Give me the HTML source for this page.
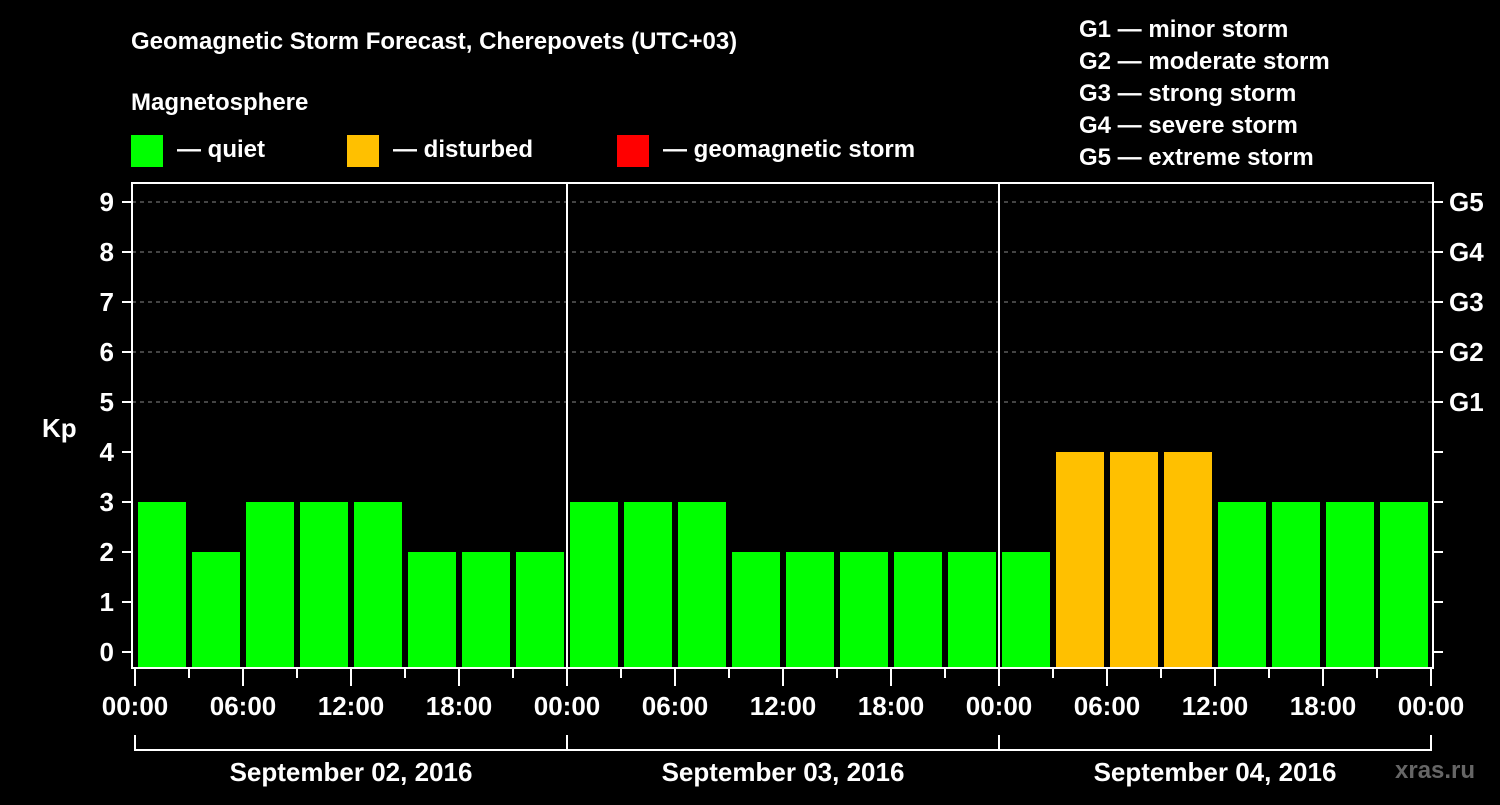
<!DOCTYPE html>
<html><head><meta charset="utf-8"><style>
body{margin:0;background:#000;width:1500px;height:800px;overflow:hidden}
svg text{font-family:"Liberation Sans",sans-serif;font-weight:bold;fill:#fff}
</style></head><body>
<svg id="c" width="1500" height="800">
<text x="131" y="49" font-size="24">Geomagnetic Storm Forecast, Cherepovets (UTC+03)</text>
<text x="131" y="110" font-size="24">Magnetosphere</text>
<rect x="131" y="135" width="32" height="32" fill="#00ff00"/>
<text x="177" y="157" font-size="24">— quiet</text>
<rect x="347" y="135" width="32" height="32" fill="#ffc000"/>
<text x="393" y="157" font-size="24">— disturbed</text>
<rect x="617" y="135" width="32" height="32" fill="#ff0000"/>
<text x="663" y="157" font-size="24">— geomagnetic storm</text>
<g font-size="24">
<text x="1079" y="37">G1 — minor storm</text>
<text x="1079" y="69">G2 — moderate storm</text>
<text x="1079" y="101">G3 — strong storm</text>
<text x="1079" y="133">G4 — severe storm</text>
<text x="1079" y="165">G5 — extreme storm</text>
</g>
<text x="42" y="437" font-size="26">Kp</text>
<text x="1395" y="778" font-size="24" fill="#666" style="fill:#666">xras.ru</text>
<g id="g"></g>
</svg>
<script>
const kpValues=[3,2,3,3,3,2,2,2, 3,3,3,2,2,2,2,2, 2,4,4,4,3,3,3,3];
const yTicks=[0,1,2,3,4,5,6,7,8,9];
const gLabels=["G1","G2","G3","G4","G5"];
const timeLabels=["00:00","06:00","12:00","18:00","00:00","06:00","12:00","18:00","00:00","06:00","12:00","18:00","00:00"];
const dayLabels=["September 02, 2016","September 03, 2016","September 04, 2016"];
const X0=135,SLOT=54,Y0=652,UNIT=50;
const xs=i=>X0+i*SLOT, ys=v=>Y0-v*UNIT;
const g=document.getElementById('g');const NS='http://www.w3.org/2000/svg';
function mk(t,a){const e=document.createElementNS(NS,t);for(const k in a)e.setAttribute(k,a[k]);g.appendChild(e);return e;}
yTicks.forEach(v=>{
 if(v>=5){const l=mk('line',{x1:132,x2:1433,y1:ys(v),y2:ys(v),stroke:'#888','stroke-dasharray':'4,4','stroke-width':1});
 
 }
 const t1=mk('line',{x1:122,x2:132,y1:ys(v),y2:ys(v),stroke:'#fff','stroke-width':2});
 
 
 const t2=mk('line',{x1:1433,x2:1443,y1:ys(v),y2:ys(v),stroke:'#fff','stroke-width':2});
 
 
 const tx=mk('text',{x:114,y:ys(v)+9,'text-anchor':'end','font-size':26});tx.textContent=v;
 
 
});
gLabels.forEach((s,i)=>{const t=mk('text',{x:1449,y:ys(5+i)+9,'font-size':26});t.textContent=s;
 
 });
kpValues.forEach((v,i)=>{
 const col=v>=5?'#ff0000':(v>=4?'#ffc000':'#00ff00');
 const r=mk('rect',{x:xs(i)+3,y:ys(v),width:48,height:668-ys(v),fill:col});
 
 
});
const fr=mk('rect',{x:132,y:183,width:1301,height:485,fill:'none',stroke:'#fff','stroke-width':2});


[1,2].forEach(d=>{const l=mk('line',{x1:xs(d*8),x2:xs(d*8),y1:183,y2:668,stroke:'#fff','stroke-width':2});
 
 });
for(let i=0;i<=24;i++){const maj=i%2==0;
 const l=mk('line',{x1:xs(i),x2:xs(i),y1:668,y2:maj?686:678,stroke:'#fff','stroke-width':2});
 
 }
timeLabels.forEach((s,i)=>{const t=mk('text',{x:xs(i*2),y:715,'text-anchor':'middle','font-size':26});t.textContent=s;
 
 });
const br=mk('path',{d:`M${xs(0)},735V750H${xs(24)}V735M${xs(8)},735V750M${xs(16)},735V750`,fill:'none',stroke:'#fff','stroke-width':2});


dayLabels.forEach((s,i)=>{const t=mk('text',{x:xs(i*8+4),y:781,'text-anchor':'middle','font-size':26});t.textContent=s;
 
 });
</script>
</body></html>
